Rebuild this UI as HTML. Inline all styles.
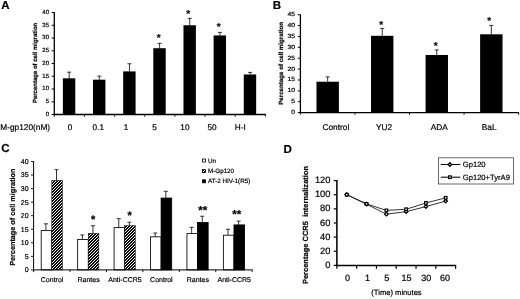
<!DOCTYPE html>
<html><head><meta charset="utf-8"><title>Figure</title>
<style>
html,body{margin:0;padding:0;background:#fff;}
body{width:520px;height:299px;overflow:hidden;}
svg{display:block;will-change:transform;filter:blur(0.3px);font-family:"Liberation Sans",sans-serif;}
text{fill:#000;text-rendering:geometricPrecision;stroke:#000;stroke-width:0.2px;}
.b{font-weight:bold;}
</style></head><body>
<svg width="520" height="299" viewBox="0 0 520 299">
<defs>
<pattern id="hatch0" x="0" y="0" width="3" height="3" patternUnits="userSpaceOnUse" shape-rendering="crispEdges">
<rect width="3" height="3" fill="#0a0a0a"/>
<rect x="2" y="0" width="1" height="1" fill="#fafafa"/>
<rect x="1" y="1" width="1" height="1" fill="#fafafa"/>
<rect x="0" y="2" width="1" height="1" fill="#fafafa"/>
</pattern>
<pattern id="hatch1" x="1" y="0" width="3" height="3" patternUnits="userSpaceOnUse" shape-rendering="crispEdges">
<rect width="3" height="3" fill="#0a0a0a"/>
<rect x="2" y="0" width="1" height="1" fill="#fafafa"/>
<rect x="1" y="1" width="1" height="1" fill="#fafafa"/>
<rect x="0" y="2" width="1" height="1" fill="#fafafa"/>
</pattern>
<pattern id="hatch2" x="2" y="0" width="3" height="3" patternUnits="userSpaceOnUse" shape-rendering="crispEdges">
<rect width="3" height="3" fill="#0a0a0a"/>
<rect x="2" y="0" width="1" height="1" fill="#fafafa"/>
<rect x="1" y="1" width="1" height="1" fill="#fafafa"/>
<rect x="0" y="2" width="1" height="1" fill="#fafafa"/>
</pattern>

</defs>
<rect width="520" height="299" fill="#fff"/>

<text x="1.20" y="9.40" font-size="11.5" text-anchor="start" class="b">A</text>
<text x="272.70" y="9.25" font-size="11.5" text-anchor="start" class="b">B</text>
<text x="1.20" y="152.00" font-size="11.5" text-anchor="start" class="b">C</text>
<text x="283.60" y="152.80" font-size="11.5" text-anchor="start" class="b">D</text>
<line x1="54.30" y1="12.00" x2="54.30" y2="115.10" stroke="#000" stroke-width="1.3"/>
<line x1="53.70" y1="114.50" x2="265.85" y2="114.50" stroke="#000" stroke-width="1.3"/>
<line x1="51.70" y1="114.50" x2="54.30" y2="114.50" stroke="#000" stroke-width="1.0"/>
<text x="49.00" y="115.75" font-size="6" text-anchor="end">0</text>
<line x1="51.70" y1="101.75" x2="54.30" y2="101.75" stroke="#000" stroke-width="1.0"/>
<text x="49.00" y="103.00" font-size="6" text-anchor="end">5</text>
<line x1="51.70" y1="89.00" x2="54.30" y2="89.00" stroke="#000" stroke-width="1.0"/>
<text x="49.00" y="90.25" font-size="6" text-anchor="end">10</text>
<line x1="51.70" y1="76.25" x2="54.30" y2="76.25" stroke="#000" stroke-width="1.0"/>
<text x="49.00" y="77.50" font-size="6" text-anchor="end">15</text>
<line x1="51.70" y1="63.50" x2="54.30" y2="63.50" stroke="#000" stroke-width="1.0"/>
<text x="49.00" y="64.75" font-size="6" text-anchor="end">20</text>
<line x1="51.70" y1="50.75" x2="54.30" y2="50.75" stroke="#000" stroke-width="1.0"/>
<text x="49.00" y="52.00" font-size="6" text-anchor="end">25</text>
<line x1="51.70" y1="38.00" x2="54.30" y2="38.00" stroke="#000" stroke-width="1.0"/>
<text x="49.00" y="39.25" font-size="6" text-anchor="end">30</text>
<line x1="51.70" y1="25.25" x2="54.30" y2="25.25" stroke="#000" stroke-width="1.0"/>
<text x="49.00" y="26.50" font-size="6" text-anchor="end">35</text>
<line x1="51.70" y1="12.50" x2="54.30" y2="12.50" stroke="#000" stroke-width="1.0"/>
<text x="49.00" y="13.75" font-size="6" text-anchor="end">40</text>
<line x1="54.30" y1="114.50" x2="54.30" y2="116.70" stroke="#000" stroke-width="0.9"/>
<line x1="84.45" y1="114.50" x2="84.45" y2="116.70" stroke="#000" stroke-width="0.9"/>
<line x1="114.60" y1="114.50" x2="114.60" y2="116.70" stroke="#000" stroke-width="0.9"/>
<line x1="144.75" y1="114.50" x2="144.75" y2="116.70" stroke="#000" stroke-width="0.9"/>
<line x1="174.90" y1="114.50" x2="174.90" y2="116.70" stroke="#000" stroke-width="0.9"/>
<line x1="205.05" y1="114.50" x2="205.05" y2="116.70" stroke="#000" stroke-width="0.9"/>
<line x1="235.20" y1="114.50" x2="235.20" y2="116.70" stroke="#000" stroke-width="0.9"/>
<line x1="265.35" y1="114.50" x2="265.35" y2="116.70" stroke="#000" stroke-width="0.9"/>
<rect x="62.88" y="78.29" width="12.40" height="36.21" fill="#000"/>
<line x1="69.17" y1="78.29" x2="69.17" y2="72.17" stroke="#000" stroke-width="0.8"/>
<line x1="67.17" y1="72.17" x2="71.17" y2="72.17" stroke="#000" stroke-width="0.8"/>
<text x="70.10" y="129.50" font-size="8.2" text-anchor="middle">0</text>
<rect x="93.02" y="79.69" width="12.40" height="34.81" fill="#000"/>
<line x1="99.32" y1="79.69" x2="99.32" y2="76.12" stroke="#000" stroke-width="0.8"/>
<line x1="97.32" y1="76.12" x2="101.32" y2="76.12" stroke="#000" stroke-width="0.8"/>
<text x="98.25" y="129.50" font-size="8.2" text-anchor="middle">0.1</text>
<rect x="123.18" y="71.41" width="12.40" height="43.09" fill="#000"/>
<line x1="129.48" y1="71.41" x2="129.48" y2="63.76" stroke="#000" stroke-width="0.8"/>
<line x1="127.48" y1="63.76" x2="131.48" y2="63.76" stroke="#000" stroke-width="0.8"/>
<text x="126.10" y="129.50" font-size="8.2" text-anchor="middle">1</text>
<rect x="153.32" y="48.20" width="12.40" height="66.30" fill="#000"/>
<line x1="159.62" y1="48.20" x2="159.62" y2="43.36" stroke="#000" stroke-width="0.8"/>
<line x1="157.62" y1="43.36" x2="161.62" y2="43.36" stroke="#000" stroke-width="0.8"/>
<text x="154.50" y="129.50" font-size="8.2" text-anchor="middle">5</text>
<rect x="183.47" y="25.25" width="12.40" height="89.25" fill="#000"/>
<line x1="189.77" y1="25.25" x2="189.77" y2="18.37" stroke="#000" stroke-width="0.8"/>
<line x1="187.77" y1="18.37" x2="191.77" y2="18.37" stroke="#000" stroke-width="0.8"/>
<text x="184.90" y="129.50" font-size="8.2" text-anchor="middle">10</text>
<rect x="213.62" y="35.45" width="12.40" height="79.05" fill="#000"/>
<line x1="219.93" y1="35.45" x2="219.93" y2="32.39" stroke="#000" stroke-width="0.8"/>
<line x1="217.93" y1="32.39" x2="221.93" y2="32.39" stroke="#000" stroke-width="0.8"/>
<text x="212.10" y="129.50" font-size="8.2" text-anchor="middle">50</text>
<rect x="243.77" y="74.47" width="12.40" height="40.03" fill="#000"/>
<line x1="250.07" y1="74.47" x2="250.07" y2="72.42" stroke="#000" stroke-width="0.8"/>
<line x1="248.07" y1="72.42" x2="252.07" y2="72.42" stroke="#000" stroke-width="0.8"/>
<text x="240.25" y="129.50" font-size="8.2" text-anchor="middle">H-I</text>
<text x="158.70" y="41.35" font-size="10" text-anchor="middle" class="b">*</text>
<text x="188.30" y="16.75" font-size="10" text-anchor="middle" class="b">*</text>
<text x="218.80" y="30.45" font-size="10" text-anchor="middle" class="b">*</text>
<text x="0.30" y="129.50" font-size="8.3" text-anchor="start">M-gp120(nM)</text>
<text x="37.50" y="62.90" font-size="6.0" text-anchor="middle" class="b" transform="rotate(-90 37.50 62.90)">Percentage of cell migration</text>
<line x1="300.40" y1="14.23" x2="300.40" y2="113.20" stroke="#000" stroke-width="1.3"/>
<line x1="299.80" y1="112.60" x2="519.10" y2="112.60" stroke="#000" stroke-width="1.3"/>
<line x1="297.80" y1="112.60" x2="300.40" y2="112.60" stroke="#000" stroke-width="1.0"/>
<text transform="translate(295.00 114.00) scale(1.13 1)" font-size="6" text-anchor="end">0</text>
<line x1="297.80" y1="101.72" x2="300.40" y2="101.72" stroke="#000" stroke-width="1.0"/>
<text transform="translate(295.00 103.12) scale(1.13 1)" font-size="6" text-anchor="end">5</text>
<line x1="297.80" y1="90.85" x2="300.40" y2="90.85" stroke="#000" stroke-width="1.0"/>
<text transform="translate(295.00 92.25) scale(1.13 1)" font-size="6" text-anchor="end">10</text>
<line x1="297.80" y1="79.97" x2="300.40" y2="79.97" stroke="#000" stroke-width="1.0"/>
<text transform="translate(295.00 81.38) scale(1.13 1)" font-size="6" text-anchor="end">15</text>
<line x1="297.80" y1="69.10" x2="300.40" y2="69.10" stroke="#000" stroke-width="1.0"/>
<text transform="translate(295.00 70.50) scale(1.13 1)" font-size="6" text-anchor="end">20</text>
<line x1="297.80" y1="58.23" x2="300.40" y2="58.23" stroke="#000" stroke-width="1.0"/>
<text transform="translate(295.00 59.62) scale(1.13 1)" font-size="6" text-anchor="end">25</text>
<line x1="297.80" y1="47.35" x2="300.40" y2="47.35" stroke="#000" stroke-width="1.0"/>
<text transform="translate(295.00 48.75) scale(1.13 1)" font-size="6" text-anchor="end">30</text>
<line x1="297.80" y1="36.47" x2="300.40" y2="36.47" stroke="#000" stroke-width="1.0"/>
<text transform="translate(295.00 37.87) scale(1.13 1)" font-size="6" text-anchor="end">35</text>
<line x1="297.80" y1="25.60" x2="300.40" y2="25.60" stroke="#000" stroke-width="1.0"/>
<text transform="translate(295.00 27.00) scale(1.13 1)" font-size="6" text-anchor="end">40</text>
<line x1="297.80" y1="14.73" x2="300.40" y2="14.73" stroke="#000" stroke-width="1.0"/>
<text transform="translate(295.00 16.13) scale(1.13 1)" font-size="6" text-anchor="end">45</text>
<line x1="300.40" y1="112.60" x2="300.40" y2="114.80" stroke="#000" stroke-width="0.9"/>
<line x1="354.95" y1="112.60" x2="354.95" y2="114.80" stroke="#000" stroke-width="0.9"/>
<line x1="409.50" y1="112.60" x2="409.50" y2="114.80" stroke="#000" stroke-width="0.9"/>
<line x1="464.05" y1="112.60" x2="464.05" y2="114.80" stroke="#000" stroke-width="0.9"/>
<line x1="518.60" y1="112.60" x2="518.60" y2="114.80" stroke="#000" stroke-width="0.9"/>
<rect x="316.47" y="81.72" width="22.40" height="30.88" fill="#000"/>
<line x1="327.67" y1="81.72" x2="327.67" y2="76.93" stroke="#000" stroke-width="0.8"/>
<line x1="325.67" y1="76.93" x2="329.67" y2="76.93" stroke="#000" stroke-width="0.8"/>
<text x="335.90" y="129.60" font-size="8.3" text-anchor="middle">Control</text>
<rect x="371.02" y="35.82" width="22.40" height="76.78" fill="#000"/>
<line x1="382.22" y1="35.82" x2="382.22" y2="28.43" stroke="#000" stroke-width="0.8"/>
<line x1="380.22" y1="28.43" x2="384.22" y2="28.43" stroke="#000" stroke-width="0.8"/>
<text x="384.00" y="129.60" font-size="8.3" text-anchor="middle">YU2</text>
<text x="381.30" y="27.85" font-size="10" text-anchor="middle" class="b">*</text>
<rect x="425.57" y="54.96" width="22.40" height="57.64" fill="#000"/>
<line x1="436.77" y1="54.96" x2="436.77" y2="49.96" stroke="#000" stroke-width="0.8"/>
<line x1="434.77" y1="49.96" x2="438.77" y2="49.96" stroke="#000" stroke-width="0.8"/>
<text x="439.30" y="129.60" font-size="8.3" text-anchor="middle">ADA</text>
<text x="435.80" y="49.15" font-size="10" text-anchor="middle" class="b">*</text>
<rect x="480.12" y="34.30" width="22.40" height="78.30" fill="#000"/>
<line x1="491.32" y1="34.30" x2="491.32" y2="25.38" stroke="#000" stroke-width="0.8"/>
<line x1="489.32" y1="25.38" x2="493.32" y2="25.38" stroke="#000" stroke-width="0.8"/>
<text x="489.20" y="129.60" font-size="8.3" text-anchor="middle">BaL</text>
<text x="489.30" y="24.25" font-size="10" text-anchor="middle" class="b">*</text>
<text x="283.00" y="63.40" font-size="6.2" text-anchor="middle" class="b" transform="rotate(-90 283.00 63.40)">Percentage of cell migration</text>
<rect x="41.21" y="230.60" width="10.60" height="39.30" fill="#fff" stroke="#000" stroke-width="0.85"/>
<rect x="51.81" y="180.47" width="10.60" height="89.43" fill="url(#hatch0)" stroke="#000" stroke-width="0.5"/>
<line x1="45.91" y1="230.60" x2="45.91" y2="223.83" stroke="#000" stroke-width="0.8"/>
<line x1="43.91" y1="223.83" x2="47.91" y2="223.83" stroke="#000" stroke-width="0.8"/>
<line x1="56.51" y1="180.47" x2="56.51" y2="169.63" stroke="#000" stroke-width="0.8"/>
<line x1="54.51" y1="169.63" x2="58.51" y2="169.63" stroke="#000" stroke-width="0.8"/>
<text x="52.11" y="281.70" font-size="7.0" text-anchor="middle">Control</text>
<rect x="77.65" y="239.55" width="10.60" height="30.35" fill="#fff" stroke="#000" stroke-width="0.85"/>
<rect x="88.25" y="233.31" width="10.60" height="36.59" fill="url(#hatch1)" stroke="#000" stroke-width="0.5"/>
<line x1="82.35" y1="239.55" x2="82.35" y2="234.94" stroke="#000" stroke-width="0.8"/>
<line x1="80.35" y1="234.94" x2="84.35" y2="234.94" stroke="#000" stroke-width="0.8"/>
<line x1="92.95" y1="233.31" x2="92.95" y2="225.73" stroke="#000" stroke-width="0.8"/>
<line x1="90.95" y1="225.73" x2="94.95" y2="225.73" stroke="#000" stroke-width="0.8"/>
<text x="88.55" y="281.70" font-size="7.0" text-anchor="middle">Rantes</text>
<rect x="114.08" y="227.62" width="10.60" height="42.28" fill="#fff" stroke="#000" stroke-width="0.85"/>
<rect x="124.68" y="225.73" width="10.60" height="44.17" fill="url(#hatch0)" stroke="#000" stroke-width="0.5"/>
<line x1="118.78" y1="227.62" x2="118.78" y2="218.68" stroke="#000" stroke-width="0.8"/>
<line x1="116.78" y1="218.68" x2="120.78" y2="218.68" stroke="#000" stroke-width="0.8"/>
<line x1="129.38" y1="225.73" x2="129.38" y2="222.20" stroke="#000" stroke-width="0.8"/>
<line x1="127.38" y1="222.20" x2="131.38" y2="222.20" stroke="#000" stroke-width="0.8"/>
<text x="124.98" y="281.70" font-size="7.0" text-anchor="middle">Anti-CCR5</text>
<rect x="150.50" y="236.84" width="10.60" height="33.06" fill="#fff" stroke="#000" stroke-width="0.85"/>
<rect x="161.10" y="198.08" width="10.60" height="71.81" fill="#000" stroke="#000" stroke-width="0.85"/>
<line x1="155.20" y1="236.84" x2="155.20" y2="233.04" stroke="#000" stroke-width="0.8"/>
<line x1="153.20" y1="233.04" x2="157.20" y2="233.04" stroke="#000" stroke-width="0.8"/>
<line x1="165.81" y1="198.08" x2="165.81" y2="191.31" stroke="#000" stroke-width="0.8"/>
<line x1="163.81" y1="191.31" x2="167.81" y2="191.31" stroke="#000" stroke-width="0.8"/>
<text x="161.41" y="281.70" font-size="7.0" text-anchor="middle">Control</text>
<rect x="186.94" y="233.59" width="10.60" height="36.31" fill="#fff" stroke="#000" stroke-width="0.85"/>
<rect x="197.53" y="222.47" width="10.60" height="47.42" fill="#000" stroke="#000" stroke-width="0.85"/>
<line x1="191.63" y1="233.59" x2="191.63" y2="227.35" stroke="#000" stroke-width="0.8"/>
<line x1="189.63" y1="227.35" x2="193.63" y2="227.35" stroke="#000" stroke-width="0.8"/>
<line x1="202.24" y1="222.47" x2="202.24" y2="216.24" stroke="#000" stroke-width="0.8"/>
<line x1="200.24" y1="216.24" x2="204.24" y2="216.24" stroke="#000" stroke-width="0.8"/>
<text x="197.84" y="281.70" font-size="7.0" text-anchor="middle">Rantes</text>
<rect x="223.37" y="235.21" width="10.60" height="34.69" fill="#fff" stroke="#000" stroke-width="0.85"/>
<rect x="233.97" y="224.91" width="10.60" height="44.99" fill="#000" stroke="#000" stroke-width="0.85"/>
<line x1="228.06" y1="235.21" x2="228.06" y2="229.25" stroke="#000" stroke-width="0.8"/>
<line x1="226.06" y1="229.25" x2="230.06" y2="229.25" stroke="#000" stroke-width="0.8"/>
<line x1="238.67" y1="224.91" x2="238.67" y2="221.12" stroke="#000" stroke-width="0.8"/>
<line x1="236.67" y1="221.12" x2="240.67" y2="221.12" stroke="#000" stroke-width="0.8"/>
<text x="234.27" y="281.70" font-size="7.0" text-anchor="middle">Anti-CCR5</text>
<line x1="33.60" y1="161.00" x2="33.60" y2="270.40" stroke="#000" stroke-width="1.0"/>
<line x1="33.10" y1="269.90" x2="252.68" y2="269.90" stroke="#000" stroke-width="1.0"/>
<line x1="31.00" y1="269.90" x2="33.60" y2="269.90" stroke="#000" stroke-width="0.9"/>
<text x="28.60" y="272.30" font-size="7.0" text-anchor="end">0</text>
<line x1="31.00" y1="256.35" x2="33.60" y2="256.35" stroke="#000" stroke-width="0.9"/>
<text x="28.60" y="258.75" font-size="7.0" text-anchor="end">5</text>
<line x1="31.00" y1="242.80" x2="33.60" y2="242.80" stroke="#000" stroke-width="0.9"/>
<text x="28.60" y="245.20" font-size="7.0" text-anchor="end">10</text>
<line x1="31.00" y1="229.25" x2="33.60" y2="229.25" stroke="#000" stroke-width="0.9"/>
<text x="28.60" y="231.65" font-size="7.0" text-anchor="end">15</text>
<line x1="31.00" y1="215.70" x2="33.60" y2="215.70" stroke="#000" stroke-width="0.9"/>
<text x="28.60" y="218.10" font-size="7.0" text-anchor="end">20</text>
<line x1="31.00" y1="202.15" x2="33.60" y2="202.15" stroke="#000" stroke-width="0.9"/>
<text x="28.60" y="204.55" font-size="7.0" text-anchor="end">25</text>
<line x1="31.00" y1="188.60" x2="33.60" y2="188.60" stroke="#000" stroke-width="0.9"/>
<text x="28.60" y="191.00" font-size="7.0" text-anchor="end">30</text>
<line x1="31.00" y1="175.05" x2="33.60" y2="175.05" stroke="#000" stroke-width="0.9"/>
<text x="28.60" y="177.45" font-size="7.0" text-anchor="end">35</text>
<line x1="31.00" y1="161.50" x2="33.60" y2="161.50" stroke="#000" stroke-width="0.9"/>
<text x="28.60" y="163.90" font-size="7.0" text-anchor="end">40</text>
<line x1="33.60" y1="269.90" x2="33.60" y2="272.10" stroke="#000" stroke-width="0.9"/>
<line x1="70.03" y1="269.90" x2="70.03" y2="272.10" stroke="#000" stroke-width="0.9"/>
<line x1="106.46" y1="269.90" x2="106.46" y2="272.10" stroke="#000" stroke-width="0.9"/>
<line x1="142.89" y1="269.90" x2="142.89" y2="272.10" stroke="#000" stroke-width="0.9"/>
<line x1="179.32" y1="269.90" x2="179.32" y2="272.10" stroke="#000" stroke-width="0.9"/>
<line x1="215.75" y1="269.90" x2="215.75" y2="272.10" stroke="#000" stroke-width="0.9"/>
<line x1="252.18" y1="269.90" x2="252.18" y2="272.10" stroke="#000" stroke-width="0.9"/>
<text x="93.10" y="223.44" font-size="11" text-anchor="middle" class="b">*</text>
<text x="129.60" y="219.44" font-size="11" text-anchor="middle" class="b">*</text>
<text x="202.80" y="214.44" font-size="11.5" text-anchor="middle" class="b">**</text>
<text x="236.70" y="218.34" font-size="11.5" text-anchor="middle" class="b">**</text>
<text x="14.60" y="217.20" font-size="7.27" text-anchor="middle" class="b" transform="rotate(-90 14.60 217.20)">Percentage of cell migration</text>
<rect x="202.50" y="159.00" width="3.00" height="3.00" fill="#fff" stroke="#000" stroke-width="0.8"/>
<text x="208.00" y="162.50" font-size="6.25" text-anchor="start">Un</text>
<rect x="202.50" y="169.60" width="3.00" height="3.00" fill="url(#hatch0)" stroke="#000" stroke-width="0.8"/>
<text x="208.00" y="173.10" font-size="6.25" text-anchor="start">M-Gp120</text>
<rect x="202.50" y="179.80" width="3.00" height="3.00" fill="#000" stroke="#000" stroke-width="0.8"/>
<text x="208.00" y="183.00" font-size="6.25" text-anchor="start">AT-2 HIV-1(R5)</text>
<line x1="336.90" y1="179.96" x2="336.90" y2="266.20" stroke="#000" stroke-width="1.55"/>
<line x1="336.10" y1="265.40" x2="456.18" y2="265.40" stroke="#000" stroke-width="1.55"/>
<line x1="333.70" y1="265.40" x2="336.90" y2="265.40" stroke="#000" stroke-width="1.2"/>
<text x="330.40" y="268.00" font-size="9.3" text-anchor="end">0</text>
<line x1="333.70" y1="251.26" x2="336.90" y2="251.26" stroke="#000" stroke-width="1.2"/>
<text x="330.40" y="253.86" font-size="9.3" text-anchor="end">20</text>
<line x1="333.70" y1="237.12" x2="336.90" y2="237.12" stroke="#000" stroke-width="1.2"/>
<text x="330.40" y="239.72" font-size="9.3" text-anchor="end">40</text>
<line x1="333.70" y1="222.98" x2="336.90" y2="222.98" stroke="#000" stroke-width="1.2"/>
<text x="330.40" y="225.58" font-size="9.3" text-anchor="end">60</text>
<line x1="333.70" y1="208.84" x2="336.90" y2="208.84" stroke="#000" stroke-width="1.2"/>
<text x="330.40" y="211.44" font-size="9.3" text-anchor="end">80</text>
<line x1="333.70" y1="194.70" x2="336.90" y2="194.70" stroke="#000" stroke-width="1.2"/>
<text x="330.40" y="197.30" font-size="9.3" text-anchor="end">100</text>
<line x1="333.70" y1="180.56" x2="336.90" y2="180.56" stroke="#000" stroke-width="1.2"/>
<text x="330.40" y="183.16" font-size="9.3" text-anchor="end">120</text>
<line x1="336.90" y1="265.40" x2="336.90" y2="268.80" stroke="#000" stroke-width="1.2"/>
<line x1="356.68" y1="265.40" x2="356.68" y2="268.80" stroke="#000" stroke-width="1.2"/>
<line x1="376.46" y1="265.40" x2="376.46" y2="268.80" stroke="#000" stroke-width="1.2"/>
<line x1="396.24" y1="265.40" x2="396.24" y2="268.80" stroke="#000" stroke-width="1.2"/>
<line x1="416.02" y1="265.40" x2="416.02" y2="268.80" stroke="#000" stroke-width="1.2"/>
<line x1="435.80" y1="265.40" x2="435.80" y2="268.80" stroke="#000" stroke-width="1.2"/>
<line x1="455.58" y1="265.40" x2="455.58" y2="268.80" stroke="#000" stroke-width="1.2"/>
<polyline fill="none" stroke="#111" stroke-width="0.85" points="346.79,194.70 366.57,204.24 386.35,214.14 406.13,211.67 425.91,206.58 445.69,201.06"/>
<polyline fill="none" stroke="#111" stroke-width="0.85" points="346.79,194.70 366.57,203.89 386.35,210.40 406.13,209.26 425.91,202.97 445.69,197.81"/>
<path d="M345.04,194.70 L346.79,192.95 L348.54,194.70 L346.79,196.45 Z" fill="#fff" stroke="#000" stroke-width="1.25"/>
<path d="M364.82,204.24 L366.57,202.49 L368.32,204.24 L366.57,205.99 Z" fill="#fff" stroke="#000" stroke-width="1.25"/>
<path d="M384.60,214.14 L386.35,212.39 L388.10,214.14 L386.35,215.89 Z" fill="#fff" stroke="#000" stroke-width="1.25"/>
<path d="M404.38,211.67 L406.13,209.92 L407.88,211.67 L406.13,213.42 Z" fill="#fff" stroke="#000" stroke-width="1.25"/>
<path d="M424.16,206.58 L425.91,204.83 L427.66,206.58 L425.91,208.33 Z" fill="#fff" stroke="#000" stroke-width="1.25"/>
<path d="M443.94,201.06 L445.69,199.31 L447.44,201.06 L445.69,202.81 Z" fill="#fff" stroke="#000" stroke-width="1.25"/>
<rect x="345.49" y="193.40" width="2.60" height="2.60" fill="#fff" stroke="#000" stroke-width="1.2"/>
<rect x="365.27" y="202.59" width="2.60" height="2.60" fill="#fff" stroke="#000" stroke-width="1.2"/>
<rect x="385.05" y="209.10" width="2.60" height="2.60" fill="#fff" stroke="#000" stroke-width="1.2"/>
<rect x="404.83" y="207.96" width="2.60" height="2.60" fill="#fff" stroke="#000" stroke-width="1.2"/>
<rect x="424.61" y="201.67" width="2.60" height="2.60" fill="#fff" stroke="#000" stroke-width="1.2"/>
<rect x="444.39" y="196.51" width="2.60" height="2.60" fill="#fff" stroke="#000" stroke-width="1.2"/>
<text x="347.50" y="281.20" font-size="9" text-anchor="middle">0</text>
<text x="367.40" y="281.20" font-size="9" text-anchor="middle">1</text>
<text x="386.80" y="281.20" font-size="9" text-anchor="middle">5</text>
<text x="406.50" y="281.20" font-size="9" text-anchor="middle">15</text>
<text x="426.30" y="281.20" font-size="9" text-anchor="middle">30</text>
<text x="445.00" y="281.20" font-size="9" text-anchor="middle">60</text>
<text x="396.50" y="295.20" font-size="7.6" text-anchor="middle">(Time) minutes</text>
<text x="308.30" y="225.00" font-size="7.53" text-anchor="middle" class="b" transform="rotate(-90 308.30 225.00)">Percentage CCR5&#160; internalization</text>
<rect x="438.40" y="157.80" width="75.20" height="26.20" fill="#fff" stroke="#444" stroke-width="0.8"/>
<line x1="440.80" y1="164.50" x2="460.40" y2="164.50" stroke="#000" stroke-width="1.05"/>
<path d="M448.15,164.50 L449.90,162.75 L451.65,164.50 L449.90,166.25 Z" fill="#fff" stroke="#000" stroke-width="1.25"/>
<text x="462.80" y="167.20" font-size="7.6" text-anchor="start">Gp120</text>
<line x1="440.80" y1="177.20" x2="460.40" y2="177.20" stroke="#000" stroke-width="1.05"/>
<rect x="448.60" y="175.90" width="2.60" height="2.60" fill="#fff" stroke="#000" stroke-width="1.2"/>
<text x="462.80" y="179.90" font-size="7.6" text-anchor="start">Gp120+TyrA9</text>
</svg></body></html>
